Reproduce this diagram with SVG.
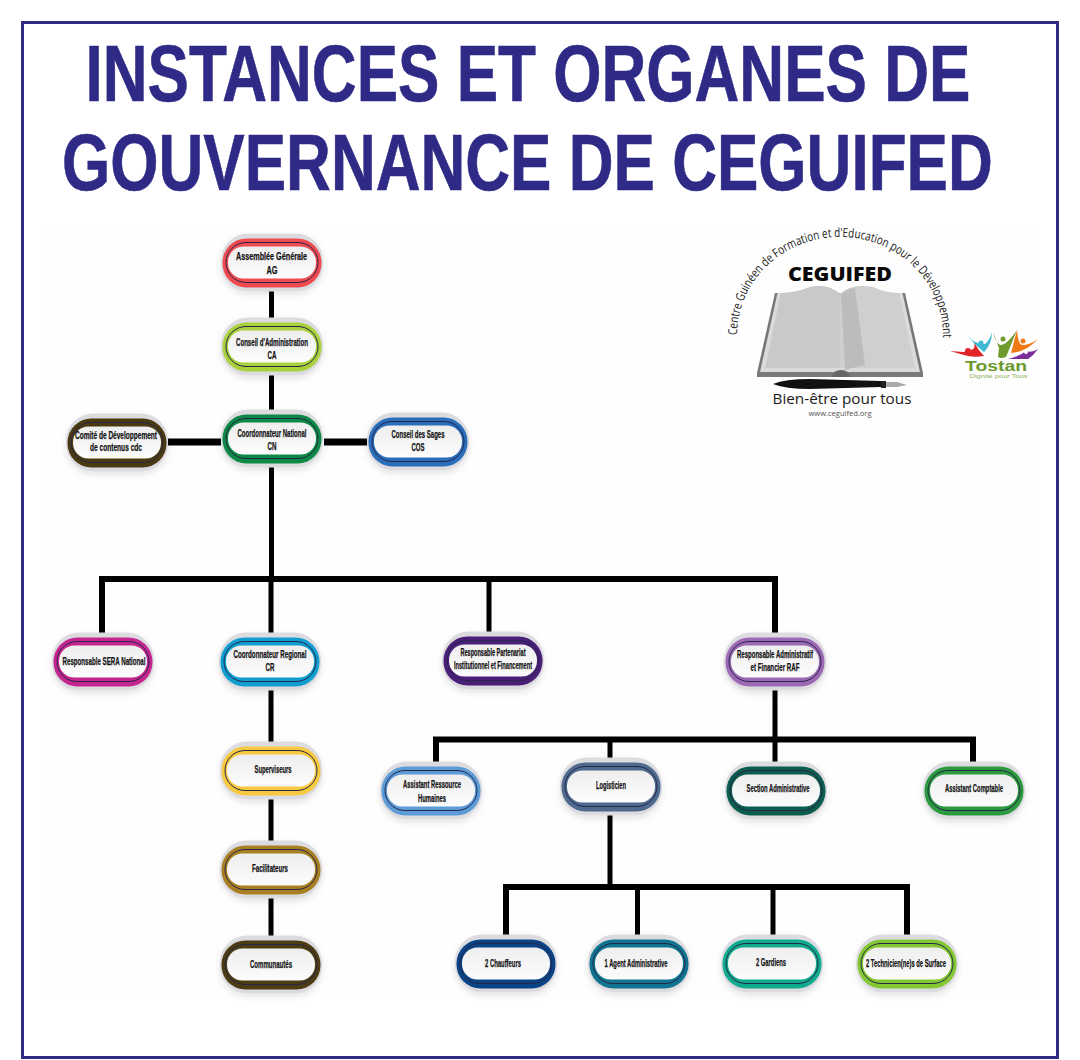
<svg xmlns="http://www.w3.org/2000/svg" xmlns:xlink="http://www.w3.org/1999/xlink" width="1080" height="1060" viewBox="0 0 1080 1060">
<style>
.title{font:bold 79px "Liberation Sans",Arial,sans-serif;fill:#2e2a86;stroke:#2e2a86;stroke-width:.6}
.l{font:bold 11.500px "Liberation Sans",Arial,sans-serif;fill:#111;text-anchor:middle;stroke:#111;stroke-width:.25}
.c{fill:none;stroke:#000;stroke-width:5;stroke-linecap:butt}
.b{fill:none;stroke:#000;stroke-width:6;stroke-linejoin:miter}
.logo{font-family:"Open Sans","Noto Sans",sans-serif}
</style>
<defs>
<linearGradient id="face" x1="0" y1="0" x2="0" y2="1"><stop offset="0" stop-color="#eeeeef"/><stop offset="1" stop-color="#fcfcfc"/></linearGradient>
<filter id="sh" x="-15%" y="-20%" width="130%" height="150%"><feDropShadow dx="0" dy="3" stdDeviation="3" flood-color="#000" flood-opacity=".1"/></filter>
<g id="pill">
<rect x="-51" y="-29.500" width="102" height="58" rx="27" fill="#dcdbe0" filter="url(#sh)"/>
<rect x="-49.500" y="-24.500" width="99" height="49" rx="24" fill="currentColor"/>
<rect x="-46" y="-20.500" width="92" height="40" rx="20" fill="none" stroke="#26264a" stroke-width="1"/>
<rect x="-44" y="-16.500" width="88" height="32" rx="15.500" fill="url(#face)"/>
</g>
<path id="arc" d="M737 335 A103 98 0 0 1 943 335L943 355"/>
</defs>
<rect width="1080" height="1060" fill="#fff"/>
<rect x="45" y="225" width="995" height="775" fill="#fefefe"/>
<rect x="22.500" y="22.500" width="1035" height="1035" fill="none" stroke="#2e2a86" stroke-width="3"/>
<text class="title" transform="translate(85.500 101) scale(.85 1)" textLength="1041" lengthAdjust="spacingAndGlyphs">INSTANCES ET ORGANES DE</text>
<text class="title" transform="translate(62 190) scale(.85 1)" textLength="1095" lengthAdjust="spacingAndGlyphs">GOUVERNANCE DE CEGUIFED</text>

<g id="connectors">
<path class="c" d="M271.500 291V320M271.500 375V412M271.500 465V579"/>
<path d="M168 442H221M324 442H367" fill="none" stroke="#000" stroke-width="7"/>
<path class="b" d="M102 637V579H775V637"/>
<path class="c" d="M271 579V635M489 579V636"/>
<path class="c" d="M271 688V744M271 798V842M271 896V937"/>
<path class="c" d="M775 689V739"/>
<path class="b" d="M436 763V739.500H973V767"/>
<path class="c" d="M610 739V759M775 739V763"/>
<path class="c" d="M610 814V887"/>
<path class="b" d="M506 935V887H907V935"/>
<path class="c" d="M637.500 887V935M773 887V935"/>
</g>

<g id="n-ag" color="#f04b50"><use href="#pill" transform="translate(272 263)"/><text class="l" x="271.500" y="260" textLength="71" lengthAdjust="spacingAndGlyphs">Assemblée Générale</text><text class="l" x="272" y="274" textLength="11" lengthAdjust="spacingAndGlyphs">AG</text></g>
<g id="n-ca" color="#a9d13c"><use href="#pill" transform="translate(272 347)"/><text class="l" x="272" y="346" textLength="72" lengthAdjust="spacingAndGlyphs">Conseil d'Administration</text><text class="l" x="272" y="359" textLength="9" lengthAdjust="spacingAndGlyphs">CA</text></g>
<g id="n-cn" color="#0c8a45"><use href="#pill" transform="translate(272 439)"/><text class="l" x="272" y="437" textLength="69" lengthAdjust="spacingAndGlyphs">Coordonnateur National</text><text class="l" x="272" y="450" textLength="9" lengthAdjust="spacingAndGlyphs">CN</text></g>
<g id="n-cdc" color="#4a3a12"><use href="#pill" transform="translate(117 443)"/><text class="l" x="116" y="439" textLength="82" lengthAdjust="spacingAndGlyphs">Comité de Développement</text><text class="l" x="116" y="451" textLength="52" lengthAdjust="spacingAndGlyphs">de contenus cdc</text></g>
<g id="n-cos" color="#2a6ebb"><use href="#pill" transform="translate(418 442)"/><text class="l" x="418" y="438" textLength="53" lengthAdjust="spacingAndGlyphs">Conseil des Sages</text><text class="l" x="418" y="451" textLength="13" lengthAdjust="spacingAndGlyphs">COS</text></g>
<g id="n-sera" color="#c4258f"><use href="#pill" transform="translate(103 662)"/><text class="l" x="104" y="665" textLength="83" lengthAdjust="spacingAndGlyphs">Responsable SERA National</text></g>
<g id="n-cr" color="#0f9ecf"><use href="#pill" transform="translate(270 662)"/><text class="l" x="270" y="658" textLength="73" lengthAdjust="spacingAndGlyphs">Coordonnateur Regional</text><text class="l" x="270" y="671" textLength="9" lengthAdjust="spacingAndGlyphs">CR</text></g>
<g id="n-rpif" color="#4a1f78"><use href="#pill" transform="translate(493 661)"/><text class="l" x="493" y="656" textLength="65" lengthAdjust="spacingAndGlyphs">Responsable Partenariat</text><text class="l" x="493" y="669" textLength="78" lengthAdjust="spacingAndGlyphs">Institutionnel et Financement</text></g>
<g id="n-raf" color="#9d69b5"><use href="#pill" transform="translate(775 662)"/><text class="l" x="775" y="658" textLength="76" lengthAdjust="spacingAndGlyphs">Responsable Administratif</text><text class="l" x="775" y="671" textLength="49" lengthAdjust="spacingAndGlyphs">et Financier RAF</text></g>
<g id="n-arh" color="#5b9bd8"><use href="#pill" transform="translate(431 791)"/><text class="l" x="432" y="788" textLength="58" lengthAdjust="spacingAndGlyphs">Assistant Ressource</text><text class="l" x="432" y="802" textLength="28" lengthAdjust="spacingAndGlyphs">Humaines</text></g>
<g id="n-log" color="#4f6a8f"><use href="#pill" transform="translate(611 787)"/><text class="l" x="611" y="789" textLength="30" lengthAdjust="spacingAndGlyphs">Logisticien</text></g>
<g id="n-sa" color="#0b5d4e"><use href="#pill" transform="translate(776 791)"/><text class="l" x="778" y="792" textLength="63" lengthAdjust="spacingAndGlyphs">Section Administrative</text></g>
<g id="n-ac" color="#2b9a3f"><use href="#pill" transform="translate(974 791)"/><text class="l" x="974" y="792" textLength="58" lengthAdjust="spacingAndGlyphs">Assistant Comptable</text></g>
<g id="n-sup" color="#f7c93e"><use href="#pill" transform="translate(271 771)"/><text class="l" x="273" y="773" textLength="37" lengthAdjust="spacingAndGlyphs">Superviseurs</text></g>
<g id="n-fac" color="#a87f22"><use href="#pill" transform="translate(271 870)"/><text class="l" x="270" y="872" textLength="36" lengthAdjust="spacingAndGlyphs">Facilitateurs</text></g>
<g id="n-com" color="#4d3c12"><use href="#pill" transform="translate(271 965)"/><text class="l" x="271" y="968" textLength="42" lengthAdjust="spacingAndGlyphs">Communautés</text></g>
<g id="n-cha" color="#0b4486"><use href="#pill" transform="translate(506 964)"/><text class="l" x="503" y="967" textLength="36" lengthAdjust="spacingAndGlyphs">2 Chauffeurs</text></g>
<g id="n-age" color="#0f7490"><use href="#pill" transform="translate(639 964)"/><text class="l" x="636" y="967" textLength="63" lengthAdjust="spacingAndGlyphs">1 Agent Administrative</text></g>
<g id="n-gar" color="#10ab8d"><use href="#pill" transform="translate(772 964)"/><text class="l" x="771" y="966" textLength="30" lengthAdjust="spacingAndGlyphs">2 Gardiens</text></g>
<g id="n-tec" color="#83c832"><use href="#pill" transform="translate(907 964)"/><text class="l" x="906" y="967" textLength="80" lengthAdjust="spacingAndGlyphs">2 Technicien(ne)s de Surface</text></g>

<g id="logo-ceguifed">
<text class="logo" font-size="12.500" fill="#222" textLength="318" lengthAdjust="spacingAndGlyphs"><textPath href="#arc" xlink:href="#arc">Centre Guinéen de Formation et d'Education pour le Développement</textPath></text>
<text class="logo" x="840" y="281" font-size="20" font-weight="800" fill="#0a0a0a" text-anchor="middle" textLength="104" lengthAdjust="spacingAndGlyphs">CEGUIFED</text>
<path d="M775 293L757 373V377H923V373L905 293Z" fill="#777"/>
<path d="M777.500 293Q795 293 810 287Q828 283 840 294V372H760Z" fill="#dadada"/>
<path d="M902.500 293Q885 293 873 287Q852 283 840 294V372H920Z" fill="#dadada"/>
<path d="M781 293Q796 293 810 287Q828 283 840 294V368H765Z" fill="#c9c9c9"/>
<path d="M899 293Q885 293 873 287Q852 283 840 294V368H915Z" fill="#cfcfcf"/>
<path d="M841 295Q847 289 855 288L865 365Q855 367 845 370Z" fill="#bcbcbc"/>
<path d="M757 372H923V377H757Z" fill="#7a7a7a"/>
<path d="M832 377Q833 370 841 370Q849 370 850 377Z" fill="#666"/>
<path d="M773 384Q785 379 810 379L881 381V387L810 389Q785 389 773 384Z" fill="#111"/>
<rect x="881" y="381" width="5" height="7" fill="#222"/>
<path d="M886 382L897 382L907 385L897 387L886 387Z" fill="#aaa"/>
<text class="logo" x="842" y="404" font-size="15" fill="#1a1a1a" text-anchor="middle" textLength="139" lengthAdjust="spacingAndGlyphs">Bien-être pour tous</text>
<text class="logo" x="840" y="416" font-size="7.500" fill="#555" text-anchor="middle" textLength="63" lengthAdjust="spacingAndGlyphs">www.ceguifed.org</text>
</g>
<g id="logo-tostan">
<path d="M950 351L964 355Q972 358 984 356Q978 350 974 342Q976 350 970 350Q966 350 964 352Z" fill="#e0242a"/>
<circle cx="968" cy="351" r="3" fill="#e0242a"/>
<path d="M968 336Q976 345 985 344Q990 340 992 332Q992 344 984 352Q976 346 968 336Z" fill="#3fb8d2"/>
<circle cx="981" cy="343" r="2.500" fill="#3fb8d2"/>
<path d="M993 332Q995 342 1000 345Q1006 346 1017 330L1006 357Q1001 359 998 357L999 348Z" fill="#6f9a2d"/>
<circle cx="1003" cy="339" r="2.500" fill="#6f9a2d"/>
<path d="M1017 330L1011 353Q1026 352 1038 339Q1030 345 1022 345Q1018 344 1017 330Z" fill="#f07a16"/>
<circle cx="1023" cy="341" r="2.500" fill="#f07a16"/>
<path d="M1008 359Q1020 356 1026 351Q1032 353 1038 349Q1034 355 1028 359Z" fill="#7b2f9a"/>
<circle cx="1026" cy="352" r="2" fill="#fff"/>
<text x="996" y="371" font-family="Liberation Sans,Arial,sans-serif" font-size="15.500" font-weight="700" fill="#6a9a2c" text-anchor="middle" textLength="62" lengthAdjust="spacingAndGlyphs">Tostan</text>
<text x="998.500" y="377.500" font-family="Liberation Sans,Arial,sans-serif" font-size="6" fill="#8db35a" text-anchor="middle" textLength="58" lengthAdjust="spacingAndGlyphs">Dignité pour Tous</text>
</g>
</svg>
